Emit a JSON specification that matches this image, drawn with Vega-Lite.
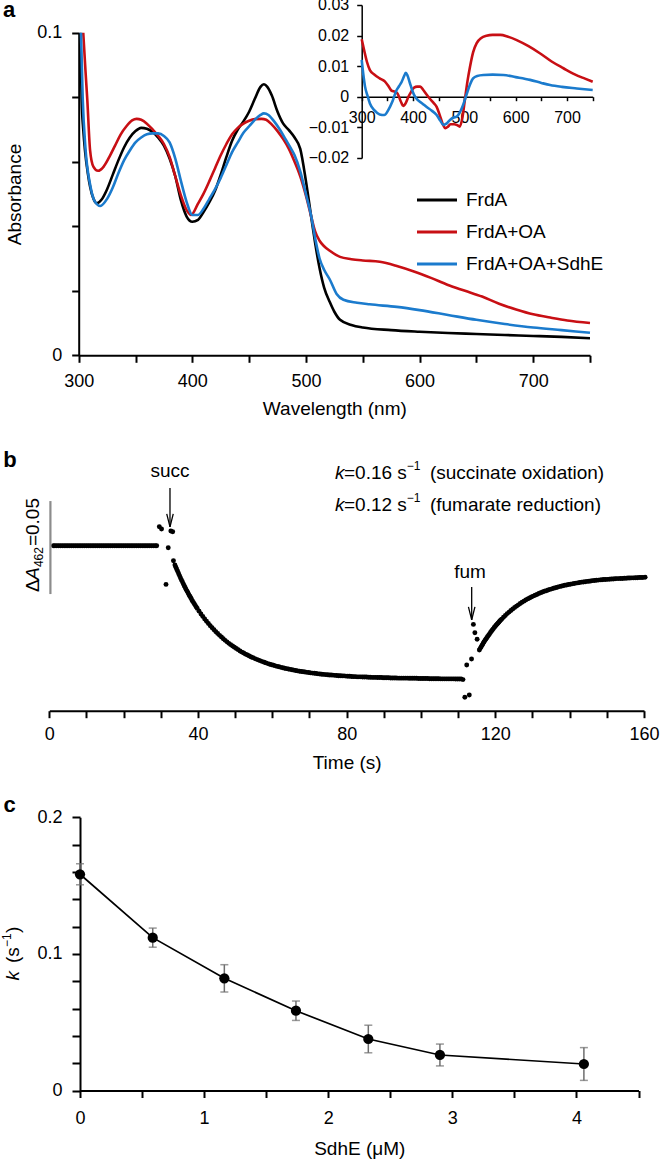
{
"$schema":"https://vega.github.io/schema/vega-lite/v6.json",
"width":661,"height":1159,"autosize":{"type":"none"},"padding":0,"background":"white",
"config":{
 "view":{"stroke":null},
 "font":"Liberation Sans",
 "axis":{"domainColor":"#000","domainWidth":2,"tickColor":"#000","tickWidth":2,"labelColor":"#000","labelFont":"Liberation Sans","labelFontSize":18,"titleFont":"Liberation Sans","titleFontSize":19,"titleFontWeight":"normal","titleColor":"#000","grid":false,"labelFlush":false,"labelOverlap":false},
 "text":{"font":"Liberation Sans","color":"#000"}
},
"resolve":{"scale":{"x":"independent","y":"independent"}},
"datasets":{
 "spec":[
{"wl":301.5,"A":0.1,"s":"FrdA"},{"wl":302.6,"A":0.079,"s":"FrdA"},{"wl":304,"A":0.07,"s":"FrdA"},{"wl":305.5,"A":0.0636,"s":"FrdA"},{"wl":308,"A":0.0565,"s":"FrdA"},{"wl":310,"A":0.0523,"s":"FrdA"},{"wl":313,"A":0.0485,"s":"FrdA"},{"wl":316,"A":0.0471,"s":"FrdA"},{"wl":320,"A":0.0482,"s":"FrdA"},{"wl":325,"A":0.0515,"s":"FrdA"},{"wl":330,"A":0.056,"s":"FrdA"},{"wl":335,"A":0.0605,"s":"FrdA"},{"wl":340,"A":0.0645,"s":"FrdA"},{"wl":345,"A":0.0675,"s":"FrdA"},{"wl":350,"A":0.0695,"s":"FrdA"},{"wl":355,"A":0.0705,"s":"FrdA"},{"wl":360,"A":0.0702,"s":"FrdA"},{"wl":365,"A":0.0692,"s":"FrdA"},{"wl":370,"A":0.0675,"s":"FrdA"},{"wl":375,"A":0.065,"s":"FrdA"},{"wl":380,"A":0.061,"s":"FrdA"},{"wl":385,"A":0.0555,"s":"FrdA"},{"wl":390,"A":0.048,"s":"FrdA"},{"wl":395,"A":0.043,"s":"FrdA"},{"wl":400,"A":0.0414,"s":"FrdA"},{"wl":405,"A":0.042,"s":"FrdA"},{"wl":410,"A":0.0445,"s":"FrdA"},{"wl":415,"A":0.0475,"s":"FrdA"},{"wl":420,"A":0.051,"s":"FrdA"},{"wl":425,"A":0.056,"s":"FrdA"},{"wl":430,"A":0.0615,"s":"FrdA"},{"wl":435,"A":0.0665,"s":"FrdA"},{"wl":440,"A":0.07,"s":"FrdA"},{"wl":445,"A":0.0725,"s":"FrdA"},{"wl":450,"A":0.0755,"s":"FrdA"},{"wl":455,"A":0.0795,"s":"FrdA"},{"wl":460,"A":0.0832,"s":"FrdA"},{"wl":463,"A":0.084,"s":"FrdA"},{"wl":466,"A":0.0832,"s":"FrdA"},{"wl":470,"A":0.0805,"s":"FrdA"},{"wl":475,"A":0.0755,"s":"FrdA"},{"wl":480,"A":0.0718,"s":"FrdA"},{"wl":485,"A":0.0698,"s":"FrdA"},{"wl":490,"A":0.0675,"s":"FrdA"},{"wl":495,"A":0.064,"s":"FrdA"},{"wl":500,"A":0.054,"s":"FrdA"},{"wl":505,"A":0.042,"s":"FrdA"},{"wl":508,"A":0.035,"s":"FrdA"},{"wl":512,"A":0.027,"s":"FrdA"},{"wl":516,"A":0.021,"s":"FrdA"},{"wl":521,"A":0.0165,"s":"FrdA"},{"wl":525,"A":0.0135,"s":"FrdA"},{"wl":530,"A":0.011,"s":"FrdA"},{"wl":540,"A":0.0094,"s":"FrdA"},{"wl":550,"A":0.0086,"s":"FrdA"},{"wl":575,"A":0.0078,"s":"FrdA"},{"wl":600,"A":0.0073,"s":"FrdA"},{"wl":625,"A":0.0069,"s":"FrdA"},{"wl":650,"A":0.0066,"s":"FrdA"},{"wl":675,"A":0.0063,"s":"FrdA"},{"wl":700,"A":0.006,"s":"FrdA"},{"wl":725,"A":0.0057,"s":"FrdA"},{"wl":750,"A":0.0053,"s":"FrdA"},
{"wl":304,"A":0.1,"s":"FrdA+OA"},{"wl":306,"A":0.088,"s":"FrdA+OA"},{"wl":307.6,"A":0.079,"s":"FrdA+OA"},{"wl":310,"A":0.0636,"s":"FrdA+OA"},{"wl":312.9,"A":0.0585,"s":"FrdA+OA"},{"wl":317,"A":0.0572,"s":"FrdA+OA"},{"wl":322,"A":0.0585,"s":"FrdA+OA"},{"wl":327,"A":0.0615,"s":"FrdA+OA"},{"wl":332,"A":0.065,"s":"FrdA+OA"},{"wl":337,"A":0.0685,"s":"FrdA+OA"},{"wl":342,"A":0.071,"s":"FrdA+OA"},{"wl":347,"A":0.0728,"s":"FrdA+OA"},{"wl":351,"A":0.0733,"s":"FrdA+OA"},{"wl":355,"A":0.073,"s":"FrdA+OA"},{"wl":360,"A":0.0718,"s":"FrdA+OA"},{"wl":365,"A":0.07,"s":"FrdA+OA"},{"wl":370,"A":0.068,"s":"FrdA+OA"},{"wl":375,"A":0.0655,"s":"FrdA+OA"},{"wl":380,"A":0.0615,"s":"FrdA+OA"},{"wl":385,"A":0.0555,"s":"FrdA+OA"},{"wl":390,"A":0.0495,"s":"FrdA+OA"},{"wl":395,"A":0.045,"s":"FrdA+OA"},{"wl":399,"A":0.0435,"s":"FrdA+OA"},{"wl":405,"A":0.047,"s":"FrdA+OA"},{"wl":410,"A":0.0502,"s":"FrdA+OA"},{"wl":415,"A":0.054,"s":"FrdA+OA"},{"wl":420,"A":0.058,"s":"FrdA+OA"},{"wl":425,"A":0.062,"s":"FrdA+OA"},{"wl":430,"A":0.0655,"s":"FrdA+OA"},{"wl":435,"A":0.0685,"s":"FrdA+OA"},{"wl":440,"A":0.0705,"s":"FrdA+OA"},{"wl":445,"A":0.0718,"s":"FrdA+OA"},{"wl":450,"A":0.0727,"s":"FrdA+OA"},{"wl":455,"A":0.0732,"s":"FrdA+OA"},{"wl":461,"A":0.0733,"s":"FrdA+OA"},{"wl":465,"A":0.073,"s":"FrdA+OA"},{"wl":470,"A":0.0715,"s":"FrdA+OA"},{"wl":475,"A":0.0695,"s":"FrdA+OA"},{"wl":480,"A":0.067,"s":"FrdA+OA"},{"wl":485,"A":0.064,"s":"FrdA+OA"},{"wl":490,"A":0.06,"s":"FrdA+OA"},{"wl":495,"A":0.0555,"s":"FrdA+OA"},{"wl":500,"A":0.0495,"s":"FrdA+OA"},{"wl":505,"A":0.0425,"s":"FrdA+OA"},{"wl":508,"A":0.0385,"s":"FrdA+OA"},{"wl":512,"A":0.0355,"s":"FrdA+OA"},{"wl":516,"A":0.0338,"s":"FrdA+OA"},{"wl":521,"A":0.0324,"s":"FrdA+OA"},{"wl":530,"A":0.0305,"s":"FrdA+OA"},{"wl":540,"A":0.0298,"s":"FrdA+OA"},{"wl":550,"A":0.0294,"s":"FrdA+OA"},{"wl":565,"A":0.029,"s":"FrdA+OA"},{"wl":580,"A":0.0277,"s":"FrdA+OA"},{"wl":595,"A":0.026,"s":"FrdA+OA"},{"wl":610,"A":0.024,"s":"FrdA+OA"},{"wl":625,"A":0.0218,"s":"FrdA+OA"},{"wl":640,"A":0.02,"s":"FrdA+OA"},{"wl":655,"A":0.0182,"s":"FrdA+OA"},{"wl":670,"A":0.016,"s":"FrdA+OA"},{"wl":685,"A":0.0142,"s":"FrdA+OA"},{"wl":700,"A":0.0127,"s":"FrdA+OA"},{"wl":715,"A":0.0117,"s":"FrdA+OA"},{"wl":730,"A":0.0108,"s":"FrdA+OA"},{"wl":750,"A":0.01,"s":"FrdA+OA"},
{"wl":302,"A":0.1,"s":"FrdA+OA+SdhE"},{"wl":303.5,"A":0.08,"s":"FrdA+OA+SdhE"},{"wl":306,"A":0.064,"s":"FrdA+OA+SdhE"},{"wl":310,"A":0.053,"s":"FrdA+OA+SdhE"},{"wl":314,"A":0.0478,"s":"FrdA+OA+SdhE"},{"wl":319,"A":0.0463,"s":"FrdA+OA+SdhE"},{"wl":325,"A":0.0485,"s":"FrdA+OA+SdhE"},{"wl":330,"A":0.052,"s":"FrdA+OA+SdhE"},{"wl":335,"A":0.0565,"s":"FrdA+OA+SdhE"},{"wl":340,"A":0.0605,"s":"FrdA+OA+SdhE"},{"wl":345,"A":0.0635,"s":"FrdA+OA+SdhE"},{"wl":350,"A":0.066,"s":"FrdA+OA+SdhE"},{"wl":355,"A":0.0675,"s":"FrdA+OA+SdhE"},{"wl":360,"A":0.0685,"s":"FrdA+OA+SdhE"},{"wl":365,"A":0.0688,"s":"FrdA+OA+SdhE"},{"wl":370,"A":0.0688,"s":"FrdA+OA+SdhE"},{"wl":375,"A":0.068,"s":"FrdA+OA+SdhE"},{"wl":380,"A":0.066,"s":"FrdA+OA+SdhE"},{"wl":385,"A":0.061,"s":"FrdA+OA+SdhE"},{"wl":390,"A":0.054,"s":"FrdA+OA+SdhE"},{"wl":395,"A":0.0475,"s":"FrdA+OA+SdhE"},{"wl":400,"A":0.0435,"s":"FrdA+OA+SdhE"},{"wl":405,"A":0.0435,"s":"FrdA+OA+SdhE"},{"wl":410,"A":0.0455,"s":"FrdA+OA+SdhE"},{"wl":415,"A":0.0485,"s":"FrdA+OA+SdhE"},{"wl":420,"A":0.0515,"s":"FrdA+OA+SdhE"},{"wl":425,"A":0.055,"s":"FrdA+OA+SdhE"},{"wl":430,"A":0.059,"s":"FrdA+OA+SdhE"},{"wl":435,"A":0.063,"s":"FrdA+OA+SdhE"},{"wl":440,"A":0.066,"s":"FrdA+OA+SdhE"},{"wl":445,"A":0.069,"s":"FrdA+OA+SdhE"},{"wl":450,"A":0.071,"s":"FrdA+OA+SdhE"},{"wl":455,"A":0.073,"s":"FrdA+OA+SdhE"},{"wl":460,"A":0.0745,"s":"FrdA+OA+SdhE"},{"wl":463,"A":0.075,"s":"FrdA+OA+SdhE"},{"wl":467,"A":0.0745,"s":"FrdA+OA+SdhE"},{"wl":472,"A":0.0725,"s":"FrdA+OA+SdhE"},{"wl":477,"A":0.07,"s":"FrdA+OA+SdhE"},{"wl":482,"A":0.067,"s":"FrdA+OA+SdhE"},{"wl":487,"A":0.064,"s":"FrdA+OA+SdhE"},{"wl":490,"A":0.062,"s":"FrdA+OA+SdhE"},{"wl":495,"A":0.057,"s":"FrdA+OA+SdhE"},{"wl":500,"A":0.05,"s":"FrdA+OA+SdhE"},{"wl":505,"A":0.0425,"s":"FrdA+OA+SdhE"},{"wl":508,"A":0.0365,"s":"FrdA+OA+SdhE"},{"wl":512,"A":0.03,"s":"FrdA+OA+SdhE"},{"wl":516,"A":0.0265,"s":"FrdA+OA+SdhE"},{"wl":521,"A":0.0235,"s":"FrdA+OA+SdhE"},{"wl":527,"A":0.019,"s":"FrdA+OA+SdhE"},{"wl":533,"A":0.0172,"s":"FrdA+OA+SdhE"},{"wl":545,"A":0.0163,"s":"FrdA+OA+SdhE"},{"wl":556,"A":0.0158,"s":"FrdA+OA+SdhE"},{"wl":580,"A":0.015,"s":"FrdA+OA+SdhE"},{"wl":600,"A":0.014,"s":"FrdA+OA+SdhE"},{"wl":625,"A":0.0125,"s":"FrdA+OA+SdhE"},{"wl":650,"A":0.011,"s":"FrdA+OA+SdhE"},{"wl":675,"A":0.0097,"s":"FrdA+OA+SdhE"},{"wl":700,"A":0.0086,"s":"FrdA+OA+SdhE"},{"wl":725,"A":0.0078,"s":"FrdA+OA+SdhE"},{"wl":750,"A":0.007,"s":"FrdA+OA+SdhE"}
 ],
 "inset":[
{"wl":300,"dA":0.0188,"s":"FrdA+OA"},{"wl":305,"dA":0.015,"s":"FrdA+OA"},{"wl":310,"dA":0.0115,"s":"FrdA+OA"},{"wl":316,"dA":0.0087,"s":"FrdA+OA"},{"wl":325,"dA":0.0072,"s":"FrdA+OA"},{"wl":335,"dA":0.006,"s":"FrdA+OA"},{"wl":345,"dA":0.005,"s":"FrdA+OA"},{"wl":352,"dA":0.0035,"s":"FrdA+OA"},{"wl":358,"dA":0.002,"s":"FrdA+OA"},{"wl":365,"dA":0.0016,"s":"FrdA+OA"},{"wl":370,"dA":0.001,"s":"FrdA+OA"},{"wl":376,"dA":-0.0015,"s":"FrdA+OA"},{"wl":381,"dA":-0.003,"s":"FrdA+OA"},{"wl":386,"dA":-0.002,"s":"FrdA+OA"},{"wl":391,"dA":0.0,"s":"FrdA+OA"},{"wl":396,"dA":0.0015,"s":"FrdA+OA"},{"wl":402,"dA":0.003,"s":"FrdA+OA"},{"wl":408,"dA":0.0033,"s":"FrdA+OA"},{"wl":414,"dA":0.0033,"s":"FrdA+OA"},{"wl":420,"dA":0.0022,"s":"FrdA+OA"},{"wl":426,"dA":0.0008,"s":"FrdA+OA"},{"wl":432,"dA":-0.0005,"s":"FrdA+OA"},{"wl":440,"dA":-0.002,"s":"FrdA+OA"},{"wl":446,"dA":-0.0033,"s":"FrdA+OA"},{"wl":452,"dA":-0.006,"s":"FrdA+OA"},{"wl":458,"dA":-0.009,"s":"FrdA+OA"},{"wl":463,"dA":-0.0103,"s":"FrdA+OA"},{"wl":468,"dA":-0.0098,"s":"FrdA+OA"},{"wl":473,"dA":-0.009,"s":"FrdA+OA"},{"wl":480,"dA":-0.009,"s":"FrdA+OA"},{"wl":486,"dA":-0.0093,"s":"FrdA+OA"},{"wl":491,"dA":-0.0098,"s":"FrdA+OA"},{"wl":496,"dA":-0.007,"s":"FrdA+OA"},{"wl":501,"dA":-0.001,"s":"FrdA+OA"},{"wl":506,"dA":0.005,"s":"FrdA+OA"},{"wl":511,"dA":0.0098,"s":"FrdA+OA"},{"wl":517,"dA":0.0145,"s":"FrdA+OA"},{"wl":524,"dA":0.0175,"s":"FrdA+OA"},{"wl":533,"dA":0.0192,"s":"FrdA+OA"},{"wl":543,"dA":0.0199,"s":"FrdA+OA"},{"wl":555,"dA":0.0202,"s":"FrdA+OA"},{"wl":570,"dA":0.0202,"s":"FrdA+OA"},{"wl":585,"dA":0.0196,"s":"FrdA+OA"},{"wl":602,"dA":0.0185,"s":"FrdA+OA"},{"wl":625,"dA":0.0165,"s":"FrdA+OA"},{"wl":647,"dA":0.0142,"s":"FrdA+OA"},{"wl":670,"dA":0.0115,"s":"FrdA+OA"},{"wl":693,"dA":0.0093,"s":"FrdA+OA"},{"wl":715,"dA":0.0073,"s":"FrdA+OA"},{"wl":735,"dA":0.0059,"s":"FrdA+OA"},{"wl":750,"dA":0.0049,"s":"FrdA+OA"},
{"wl":300,"dA":0.012,"s":"FrdA+OA+SdhE"},{"wl":303,"dA":0.0075,"s":"FrdA+OA+SdhE"},{"wl":306.5,"dA":0.0033,"s":"FrdA+OA+SdhE"},{"wl":311,"dA":0.0005,"s":"FrdA+OA+SdhE"},{"wl":316,"dA":-0.0022,"s":"FrdA+OA+SdhE"},{"wl":325,"dA":-0.0045,"s":"FrdA+OA+SdhE"},{"wl":335,"dA":-0.0058,"s":"FrdA+OA+SdhE"},{"wl":344,"dA":-0.006,"s":"FrdA+OA+SdhE"},{"wl":352,"dA":-0.0043,"s":"FrdA+OA+SdhE"},{"wl":360,"dA":-0.0015,"s":"FrdA+OA+SdhE"},{"wl":368,"dA":0.0022,"s":"FrdA+OA+SdhE"},{"wl":373,"dA":0.0035,"s":"FrdA+OA+SdhE"},{"wl":378,"dA":0.0049,"s":"FrdA+OA+SdhE"},{"wl":382,"dA":0.0065,"s":"FrdA+OA+SdhE"},{"wl":386,"dA":0.0078,"s":"FrdA+OA+SdhE"},{"wl":389,"dA":0.007,"s":"FrdA+OA+SdhE"},{"wl":394,"dA":0.0044,"s":"FrdA+OA+SdhE"},{"wl":399,"dA":0.0018,"s":"FrdA+OA+SdhE"},{"wl":404,"dA":0.0,"s":"FrdA+OA+SdhE"},{"wl":410,"dA":-0.0012,"s":"FrdA+OA+SdhE"},{"wl":418,"dA":-0.0022,"s":"FrdA+OA+SdhE"},{"wl":426,"dA":-0.0033,"s":"FrdA+OA+SdhE"},{"wl":436,"dA":-0.0045,"s":"FrdA+OA+SdhE"},{"wl":446,"dA":-0.006,"s":"FrdA+OA+SdhE"},{"wl":453,"dA":-0.0078,"s":"FrdA+OA+SdhE"},{"wl":459,"dA":-0.0092,"s":"FrdA+OA+SdhE"},{"wl":465,"dA":-0.0088,"s":"FrdA+OA+SdhE"},{"wl":472,"dA":-0.0076,"s":"FrdA+OA+SdhE"},{"wl":479,"dA":-0.0068,"s":"FrdA+OA+SdhE"},{"wl":485,"dA":-0.0065,"s":"FrdA+OA+SdhE"},{"wl":490,"dA":-0.0055,"s":"FrdA+OA+SdhE"},{"wl":495,"dA":-0.0038,"s":"FrdA+OA+SdhE"},{"wl":500,"dA":-0.0015,"s":"FrdA+OA+SdhE"},{"wl":505,"dA":0.0011,"s":"FrdA+OA+SdhE"},{"wl":511,"dA":0.004,"s":"FrdA+OA+SdhE"},{"wl":517,"dA":0.006,"s":"FrdA+OA+SdhE"},{"wl":525,"dA":0.0068,"s":"FrdA+OA+SdhE"},{"wl":537,"dA":0.0071,"s":"FrdA+OA+SdhE"},{"wl":555,"dA":0.0072,"s":"FrdA+OA+SdhE"},{"wl":576,"dA":0.0071,"s":"FrdA+OA+SdhE"},{"wl":600,"dA":0.0064,"s":"FrdA+OA+SdhE"},{"wl":628,"dA":0.0055,"s":"FrdA+OA+SdhE"},{"wl":650,"dA":0.0045,"s":"FrdA+OA+SdhE"},{"wl":667,"dA":0.0038,"s":"FrdA+OA+SdhE"},{"wl":690,"dA":0.0032,"s":"FrdA+OA+SdhE"},{"wl":719,"dA":0.0027,"s":"FrdA+OA+SdhE"},{"wl":750,"dA":0.0022,"s":"FrdA+OA+SdhE"}
 ],
 "labA":[{"wl":238.7,"A":0.107,"txt":"a"}],
 "trace":[
{"t":1.1,"v":0},{"t":1.5,"v":0},{"t":2,"v":0},{"t":2.5,"v":0},{"t":3,"v":0},{"t":3.5,"v":0},{"t":4,"v":0},{"t":4.5,"v":0},{"t":5,"v":0},{"t":5.5,"v":0},{"t":6,"v":0},{"t":6.5,"v":0},{"t":7,"v":0},{"t":7.5,"v":0},{"t":8,"v":0},{"t":8.5,"v":0},{"t":9,"v":0},{"t":9.5,"v":0},{"t":10,"v":0},{"t":10.5,"v":0},{"t":11,"v":0},{"t":11.5,"v":0},{"t":12,"v":0},{"t":12.5,"v":0},{"t":13,"v":0},{"t":13.5,"v":0},{"t":14,"v":0},{"t":14.5,"v":0},{"t":15,"v":0},{"t":15.5,"v":0},{"t":16,"v":0},{"t":16.5,"v":0},{"t":17,"v":0},{"t":17.5,"v":0},{"t":18,"v":0},{"t":18.5,"v":0},{"t":19,"v":0},{"t":19.5,"v":0},{"t":20,"v":0},{"t":20.5,"v":0},{"t":21,"v":0},{"t":21.5,"v":0},{"t":22,"v":0},{"t":22.5,"v":0},{"t":23,"v":0},{"t":23.5,"v":0},{"t":24,"v":0},{"t":24.5,"v":0},{"t":25,"v":0},{"t":25.5,"v":0},{"t":26,"v":0},{"t":26.5,"v":0},{"t":27,"v":0},{"t":27.5,"v":0},{"t":28,"v":0},{"t":28.5,"v":0},{"t":28.9,"v":0},
{"t":29.6,"v":0.0102},{"t":30.2,"v":0.009},{"t":31.4,"v":-0.0208},{"t":32,"v":-0.0011},{"t":32.7,"v":0.0079},{"t":33.2,"v":0.0075},{"t":33.4,"v":-0.0081},
{"t":33.8,"v":-0.0104},{"t":34.05,"v":-0.0116},{"t":34.3,"v":-0.0128},{"t":34.55,"v":-0.0139},{"t":34.8,"v":-0.0151},{"t":35.05,"v":-0.0162},{"t":35.3,"v":-0.0173},{"t":35.55,"v":-0.0184},{"t":35.8,"v":-0.0194},{"t":36.05,"v":-0.0205},{"t":36.3,"v":-0.0215},{"t":36.55,"v":-0.0225},{"t":36.8,"v":-0.0235},{"t":37.05,"v":-0.0244},{"t":37.3,"v":-0.0253},{"t":37.55,"v":-0.0263},{"t":37.8,"v":-0.0272},{"t":38.05,"v":-0.028},{"t":38.3,"v":-0.0289},{"t":38.55,"v":-0.0298},{"t":38.8,"v":-0.0306},{"t":39.05,"v":-0.0314},{"t":39.3,"v":-0.0322},{"t":39.55,"v":-0.033},{"t":39.8,"v":-0.0337},
{"t":40.3,"v":-0.0352},{"t":40.8,"v":-0.0367},{"t":41.3,"v":-0.038},{"t":41.8,"v":-0.0394},{"t":42.3,"v":-0.0406},{"t":42.8,"v":-0.0418},{"t":43.3,"v":-0.043},{"t":43.8,"v":-0.0441},{"t":44.3,"v":-0.0452},{"t":44.8,"v":-0.0463},{"t":45.3,"v":-0.0472},{"t":45.8,"v":-0.0482},{"t":46.3,"v":-0.0491},{"t":46.8,"v":-0.05},{"t":47.3,"v":-0.0509},{"t":47.8,"v":-0.0517},{"t":48.3,"v":-0.0525},{"t":48.8,"v":-0.0532},{"t":49.3,"v":-0.0539},{"t":49.8,"v":-0.0546},
{"t":50.3,"v":-0.0553},{"t":50.8,"v":-0.0559},{"t":51.3,"v":-0.0566},{"t":51.8,"v":-0.0572},{"t":52.3,"v":-0.0577},{"t":52.8,"v":-0.0583},{"t":53.3,"v":-0.0588},{"t":53.8,"v":-0.0593},{"t":54.3,"v":-0.0598},{"t":54.8,"v":-0.0602},{"t":55.3,"v":-0.0607},{"t":55.8,"v":-0.0611},{"t":56.3,"v":-0.0615},{"t":56.8,"v":-0.0619},{"t":57.3,"v":-0.0623},{"t":57.8,"v":-0.0627},{"t":58.3,"v":-0.063},{"t":58.8,"v":-0.0634},{"t":59.3,"v":-0.0637},{"t":59.8,"v":-0.064},{"t":60.3,"v":-0.0643},{"t":60.8,"v":-0.0646},{"t":61.3,"v":-0.0649},{"t":61.8,"v":-0.0651},{"t":62.3,"v":-0.0654},{"t":62.8,"v":-0.0656},{"t":63.3,"v":-0.0659},{"t":63.8,"v":-0.0661},{"t":64.3,"v":-0.0663},{"t":64.8,"v":-0.0665},{"t":65.3,"v":-0.0667},{"t":65.8,"v":-0.0669},{"t":66.3,"v":-0.0671},{"t":66.8,"v":-0.0673},{"t":67.3,"v":-0.0675},{"t":67.8,"v":-0.0676},{"t":68.3,"v":-0.0678},{"t":68.8,"v":-0.0679},{"t":69.3,"v":-0.0681},{"t":69.8,"v":-0.0682},{"t":70.3,"v":-0.0684},{"t":70.8,"v":-0.0685},{"t":71.3,"v":-0.0686},{"t":71.8,"v":-0.0687},{"t":72.3,"v":-0.0689},{"t":72.8,"v":-0.069},{"t":73.3,"v":-0.0691},{"t":73.8,"v":-0.0692},{"t":74.3,"v":-0.0693},{"t":74.8,"v":-0.0694},{"t":75.3,"v":-0.0695},{"t":75.8,"v":-0.0695},{"t":76.3,"v":-0.0696},{"t":76.8,"v":-0.0697},{"t":77.3,"v":-0.0698},{"t":77.8,"v":-0.0699},{"t":78.3,"v":-0.0699},{"t":78.8,"v":-0.07},{"t":79.3,"v":-0.07},{"t":79.8,"v":-0.0701},{"t":80.3,"v":-0.0702},{"t":80.8,"v":-0.0702},{"t":81.3,"v":-0.0703},{"t":81.8,"v":-0.0704},{"t":82.3,"v":-0.0704},{"t":82.8,"v":-0.0705},{"t":83.3,"v":-0.0705},{"t":83.8,"v":-0.0705},{"t":84.3,"v":-0.0706},{"t":84.8,"v":-0.0706},{"t":85.3,"v":-0.0706},{"t":85.8,"v":-0.0707},{"t":86.3,"v":-0.0707},{"t":86.8,"v":-0.0708},{"t":87.3,"v":-0.0708},{"t":87.8,"v":-0.0708},{"t":88.3,"v":-0.0709},{"t":88.8,"v":-0.0709},{"t":89.3,"v":-0.0709},{"t":89.8,"v":-0.071},{"t":90.3,"v":-0.071},{"t":90.8,"v":-0.071},{"t":91.3,"v":-0.071},{"t":91.8,"v":-0.0711},{"t":92.3,"v":-0.0711},{"t":92.8,"v":-0.0711},{"t":93.3,"v":-0.0711},{"t":93.8,"v":-0.0712},{"t":94.3,"v":-0.0712},{"t":94.8,"v":-0.0712},{"t":95.3,"v":-0.0712},{"t":95.8,"v":-0.0712},{"t":96.3,"v":-0.0712},{"t":96.8,"v":-0.0713},{"t":97.3,"v":-0.0713},{"t":97.8,"v":-0.0713},{"t":98.3,"v":-0.0713},{"t":98.8,"v":-0.0713},{"t":99.3,"v":-0.0714},{"t":99.8,"v":-0.0714},{"t":100.3,"v":-0.0714},{"t":100.8,"v":-0.0714},{"t":101.3,"v":-0.0714},{"t":101.8,"v":-0.0714},{"t":102.3,"v":-0.0715},{"t":102.8,"v":-0.0715},{"t":103.3,"v":-0.0715},{"t":103.8,"v":-0.0715},{"t":104.3,"v":-0.0715},{"t":104.8,"v":-0.0715},{"t":105.3,"v":-0.0716},{"t":105.8,"v":-0.0716},{"t":106.3,"v":-0.0716},{"t":106.8,"v":-0.0716},{"t":107.3,"v":-0.0716},{"t":107.8,"v":-0.0716},{"t":108.3,"v":-0.0716},{"t":108.8,"v":-0.0716},{"t":109.3,"v":-0.0717},{"t":109.8,"v":-0.0717},{"t":110.3,"v":-0.0717},{"t":110.8,"v":-0.0717},{"t":111.3,"v":-0.072},
{"t":111.8,"v":-0.0815},{"t":113,"v":-0.0803},{"t":112.3,"v":-0.0641},{"t":113.6,"v":-0.0609},{"t":114.1,"v":-0.0423},{"t":114.5,"v":-0.0468},{"t":115.1,"v":-0.0503},
{"t":115.7,"v":-0.0561},{"t":115.95,"v":-0.0552},{"t":116.2,"v":-0.0543},{"t":116.45,"v":-0.0535},{"t":116.7,"v":-0.0526},{"t":116.95,"v":-0.0518},{"t":117.2,"v":-0.051},{"t":117.45,"v":-0.0503},{"t":117.7,"v":-0.0495},{"t":117.95,"v":-0.0488},{"t":118.2,"v":-0.0481},{"t":118.45,"v":-0.0474},{"t":118.7,"v":-0.0467},{"t":118.95,"v":-0.046},{"t":119.2,"v":-0.0453},{"t":119.45,"v":-0.0447},{"t":119.7,"v":-0.044},{"t":119.95,"v":-0.0434},{"t":120.2,"v":-0.0428},{"t":120.45,"v":-0.0422},{"t":120.7,"v":-0.0417},{"t":120.95,"v":-0.0411},{"t":121.2,"v":-0.0405},{"t":121.45,"v":-0.04},{"t":121.7,"v":-0.0395},
{"t":122.2,"v":-0.0385},{"t":122.7,"v":-0.0375},{"t":123.2,"v":-0.0365},{"t":123.7,"v":-0.0357},{"t":124.2,"v":-0.0348},{"t":124.7,"v":-0.034},{"t":125.2,"v":-0.0332},{"t":125.7,"v":-0.0325},{"t":126.2,"v":-0.0318},{"t":126.7,"v":-0.0311},{"t":127.2,"v":-0.0304},{"t":127.7,"v":-0.0298},{"t":128.2,"v":-0.0292},{"t":128.7,"v":-0.0286},{"t":129.2,"v":-0.0281},{"t":129.7,"v":-0.0276},
{"t":130.2,"v":-0.0271},{"t":130.7,"v":-0.0266},{"t":131.2,"v":-0.0262},{"t":131.7,"v":-0.0257},{"t":132.2,"v":-0.0253},{"t":132.7,"v":-0.0249},{"t":133.2,"v":-0.0245},{"t":133.7,"v":-0.0242},{"t":134.2,"v":-0.0238},{"t":134.7,"v":-0.0235},{"t":135.2,"v":-0.0232},{"t":135.7,"v":-0.0229},{"t":136.2,"v":-0.0226},{"t":136.7,"v":-0.0223},{"t":137.2,"v":-0.022},{"t":137.7,"v":-0.0218},{"t":138.2,"v":-0.0215},{"t":138.7,"v":-0.0213},{"t":139.2,"v":-0.0211},{"t":139.7,"v":-0.0209},{"t":140.2,"v":-0.0207},{"t":140.7,"v":-0.0205},{"t":141.2,"v":-0.0203},{"t":141.7,"v":-0.0201},{"t":142.2,"v":-0.02},{"t":142.7,"v":-0.0198},{"t":143.2,"v":-0.0196},{"t":143.7,"v":-0.0195},{"t":144.2,"v":-0.0194},{"t":144.7,"v":-0.0192},{"t":145.2,"v":-0.0191},{"t":145.7,"v":-0.019},{"t":146.2,"v":-0.0188},{"t":146.7,"v":-0.0187},{"t":147.2,"v":-0.0186},{"t":147.7,"v":-0.0185},{"t":148.2,"v":-0.0184},{"t":148.7,"v":-0.0183},{"t":149.2,"v":-0.0182},{"t":149.7,"v":-0.0182},{"t":150.2,"v":-0.0181},{"t":150.7,"v":-0.018},{"t":151.2,"v":-0.0179},{"t":151.7,"v":-0.0179},{"t":152.2,"v":-0.0178},{"t":152.7,"v":-0.0177},{"t":153.2,"v":-0.0177},{"t":153.7,"v":-0.0176},{"t":154.2,"v":-0.0176},{"t":154.7,"v":-0.0175},{"t":155.2,"v":-0.0175},{"t":155.7,"v":-0.0174},{"t":156.2,"v":-0.0174},{"t":156.7,"v":-0.0173},{"t":157.2,"v":-0.0173},{"t":157.7,"v":-0.0172},{"t":158.2,"v":-0.0172},{"t":158.7,"v":-0.0171},{"t":159.2,"v":-0.0171},{"t":159.7,"v":-0.0171},{"t":160.3,"v":-0.017}
 ],
 "bar":[{"t":0.3,"v":0.024,"v2":-0.026}],
 "arrows":[{"t":32.47,"v":0.031,"v2":0.0101},{"t":113.64,"v":-0.0222,"v2":-0.0399}],
 "heads":[{"t":32.47,"v":0.0101},{"t":113.64,"v":-0.0399}],
 "bNorm":[{"t":79.28,"v":0.0389,"txt":"=0.16 s"},{"t":102.4,"v":0.0389,"txt":"(succinate oxidation)"},{"t":79.28,"v":0.0219,"txt":"=0.12 s"},{"t":102.4,"v":0.0219,"txt":"(fumarate reduction)"}],
 "bItal":[{"t":76.86,"v":0.0389,"txt":"k"},{"t":76.86,"v":0.0219,"txt":"k"}],
 "bSup":[{"t":96.2,"v":0.0427,"txt":"−1"},{"t":96.2,"v":0.0254,"txt":"−1"}],
 "bCen":[{"t":32.47,"v":0.0402,"txt":"succ"},{"t":113.2,"v":-0.014,"txt":"fum"}],
 "bLab":[{"t":-10.57,"v":0.0461,"txt":"b"}],
 "bRotN":[{"t":-4.39,"v":-0.0249,"txt":"Δ"},{"t":-4.39,"v":-0.0002,"txt":"=0.05"}],
 "bRotI":[{"t":-4.39,"v":-0.0184,"txt":"A"}],
 "bRotS":[{"t":-2.77,"v":-0.0115,"txt":"462"}],
 "kc":[{"d":0,"k":0.1583,"lo":0.1506,"hi":0.166},{"d":0.586,"k":0.1119,"lo":0.1049,"hi":0.1189},{"d":1.163,"k":0.0821,"lo":0.0721,"hi":0.0921},{"d":1.74,"k":0.0584,"lo":0.0513,"hi":0.0655},{"d":2.323,"k":0.0377,"lo":0.0276,"hi":0.0478},{"d":2.9,"k":0.026,"lo":0.018,"hi":0.034},{"d":4.06,"k":0.0194,"lo":0.0074,"hi":0.0314}],
 "cLab":[{"d":-0.568,"k":0.209,"txt":"c"}],
 "cRotI":[{"d":-0.54,"k":0.0805,"txt":"k"}],
 "cRotN":[{"d":-0.54,"k":0.0933,"txt":"(s"},{"d":-0.54,"k":0.1153,"txt":")"}],
 "cRotS":[{"d":-0.585,"k":0.105,"txt":"−1"}]
},
"layer":[
 {"data":{"name":"spec"},"mark":{"type":"line","strokeWidth":2.6,"interpolate":"monotone"},
  "encoding":{
   "x":{"field":"wl","type":"quantitative","scale":{"domain":[300,750],"range":[78.7,590],"nice":false,"zero":false},
    "axis":{"orient":"bottom","offset":-803.7,"values":[300,350,400,450,500,550,600,650,700,750],"labelExpr":"datum.value % 100 === 0 && datum.value < 750 ? format(datum.value, 'd') : ''","tickSize":7,"labelPadding":10,"title":"Wavelength (nm)","titleY":52.7,"titleBaseline":"middle"}},
   "y":{"field":"A","type":"quantitative","scale":{"domain":[0,0.1],"range":[355.3,32.7],"nice":false,"zero":false},
    "axis":{"orient":"left","offset":-78.7,"values":[0,0.02,0.04,0.06,0.08,0.1],"labelExpr":"datum.value === 0 ? '0' : datum.value === 0.1 ? '0.1' : ''","tickSize":7,"labelPadding":10,"title":"Absorbance","titleX":-63.7,"titleBaseline":"middle"}},
   "color":{"field":"s","type":"nominal","scale":{"domain":["FrdA","FrdA+OA","FrdA+OA+SdhE"],"range":["#000000","#c80f14","#1b7bcd"]},
    "legend":{"title":null,"orient":"none","legendX":415.5,"legendY":178.5,"symbolType":"stroke","symbolSize":1600,"symbolStrokeWidth":3,"labelFontSize":19,"labelFont":"Liberation Sans","labelColor":"#000","labelOffset":7.5,"rowPadding":-11.5,"padding":0}}
  }},
 {"data":{"name":"labA"},"mark":{"type":"text","fontSize":22,"fontWeight":"bold","align":"center","baseline":"middle"},
  "encoding":{"x":{"field":"wl","type":"quantitative","scale":{"domain":[300,750],"range":[78.7,590],"nice":false,"zero":false},"axis":null},
   "y":{"field":"A","type":"quantitative","scale":{"domain":[0,0.1],"range":[355.3,32.7],"nice":false,"zero":false},"axis":null},
   "text":{"field":"txt"}}},
 {"data":{"name":"inset"},"mark":{"type":"line","strokeWidth":2.6,"interpolate":"monotone"},
  "encoding":{
   "x":{"field":"wl","type":"quantitative","scale":{"domain":[300,750],"range":[361.7,592.7],"nice":false,"zero":false},
    "axis":{"orient":"bottom","offset":-1062.3,"values":[300,350,400,450,500,550,600,650,700,750],"labelExpr":"datum.value % 100 === 0 && datum.value < 750 ? format(datum.value, 'd') : ''","tickSize":4,"tickWidth":1.5,"domainWidth":1.5,"labelFontSize":16,"labelPadding":9,"title":null}},
   "y":{"field":"dA","type":"quantitative","scale":{"domain":[-0.02,0.03],"range":[157.9,4.9],"nice":false,"zero":false},
    "axis":{"orient":"left","offset":-361.7,"values":[-0.02,-0.01,0,0.01,0.02,0.03],"labelExpr":"datum.value === 0 ? '0' : format(datum.value, '.2f')","tickSize":5,"tickWidth":1.5,"domainWidth":1.5,"labelFontSize":16,"labelPadding":8,"title":null}},
   "color":{"field":"s","type":"nominal"}
  }},
 {"data":{"name":"trace"},"mark":{"type":"circle","size":24,"color":"#000","opacity":1},
  "encoding":{"x":{"field":"t","type":"quantitative","scale":{"domain":[0,160],"range":[49.3,644],"nice":false,"zero":false},
    "axis":{"orient":"bottom","offset":-448.3,"values":[0,10,20,30,40,50,60,70,80,90,100,110,120,130,140,150,160],"labelExpr":"datum.value % 40 === 0 ? format(datum.value, 'd') : ''","tickSize":7,"labelPadding":8,"title":"Time (s)","titleY":51.3,"titleBaseline":"middle"}},
   "y":{"field":"v","type":"quantitative","scale":{"domain":[-0.09,0.03],"range":[713.1,489.9],"nice":false,"zero":false},"axis":null}}},
 {"data":{"name":"bar"},"mark":{"type":"rule","color":"#8c8c8c","strokeWidth":2.2},
  "encoding":{"x":{"field":"t","type":"quantitative","scale":{"domain":[0,160],"range":[49.3,644],"nice":false,"zero":false},"axis":null},
   "y":{"field":"v","type":"quantitative","scale":{"domain":[-0.09,0.03],"range":[713.1,489.9],"nice":false,"zero":false},"axis":null},"y2":{"field":"v2"}}},
 {"data":{"name":"arrows"},"mark":{"type":"rule","color":"#000","strokeWidth":1.3},
  "encoding":{"x":{"field":"t","type":"quantitative","scale":{"domain":[0,160],"range":[49.3,644],"nice":false,"zero":false},"axis":null},
   "y":{"field":"v","type":"quantitative","scale":{"domain":[-0.09,0.03],"range":[713.1,489.9],"nice":false,"zero":false},"axis":null},"y2":{"field":"v2"}}},
 {"data":{"name":"heads"},"mark":{"type":"point","shape":"M-0.5,-2L0,0L0.5,-2","filled":false,"size":169,"strokeWidth":1.3,"color":"#000","opacity":1},
  "encoding":{"x":{"field":"t","type":"quantitative","scale":{"domain":[0,160],"range":[49.3,644],"nice":false,"zero":false},"axis":null},
   "y":{"field":"v","type":"quantitative","scale":{"domain":[-0.09,0.03],"range":[713.1,489.9],"nice":false,"zero":false},"axis":null}}},
 {"data":{"name":"bNorm"},"mark":{"type":"text","fontSize":19,"align":"left","baseline":"middle"},
  "encoding":{"x":{"field":"t","type":"quantitative","scale":{"domain":[0,160],"range":[49.3,644],"nice":false,"zero":false},"axis":null},
   "y":{"field":"v","type":"quantitative","scale":{"domain":[-0.09,0.03],"range":[713.1,489.9],"nice":false,"zero":false},"axis":null},"text":{"field":"txt"}}},
 {"data":{"name":"bItal"},"mark":{"type":"text","fontSize":19,"fontStyle":"italic","align":"left","baseline":"middle"},
  "encoding":{"x":{"field":"t","type":"quantitative","scale":{"domain":[0,160],"range":[49.3,644],"nice":false,"zero":false},"axis":null},
   "y":{"field":"v","type":"quantitative","scale":{"domain":[-0.09,0.03],"range":[713.1,489.9],"nice":false,"zero":false},"axis":null},"text":{"field":"txt"}}},
 {"data":{"name":"bSup"},"mark":{"type":"text","fontSize":12,"align":"left","baseline":"middle"},
  "encoding":{"x":{"field":"t","type":"quantitative","scale":{"domain":[0,160],"range":[49.3,644],"nice":false,"zero":false},"axis":null},
   "y":{"field":"v","type":"quantitative","scale":{"domain":[-0.09,0.03],"range":[713.1,489.9],"nice":false,"zero":false},"axis":null},"text":{"field":"txt"}}},
 {"data":{"name":"bCen"},"mark":{"type":"text","fontSize":19,"align":"center","baseline":"middle"},
  "encoding":{"x":{"field":"t","type":"quantitative","scale":{"domain":[0,160],"range":[49.3,644],"nice":false,"zero":false},"axis":null},
   "y":{"field":"v","type":"quantitative","scale":{"domain":[-0.09,0.03],"range":[713.1,489.9],"nice":false,"zero":false},"axis":null},"text":{"field":"txt"}}},
 {"data":{"name":"bLab"},"mark":{"type":"text","fontSize":22,"fontWeight":"bold","align":"center","baseline":"middle"},
  "encoding":{"x":{"field":"t","type":"quantitative","scale":{"domain":[0,160],"range":[49.3,644],"nice":false,"zero":false},"axis":null},
   "y":{"field":"v","type":"quantitative","scale":{"domain":[-0.09,0.03],"range":[713.1,489.9],"nice":false,"zero":false},"axis":null},"text":{"field":"txt"}}},
 {"data":{"name":"bRotN"},"mark":{"type":"text","fontSize":19,"angle":270,"align":"left","baseline":"middle"},
  "encoding":{"x":{"field":"t","type":"quantitative","scale":{"domain":[0,160],"range":[49.3,644],"nice":false,"zero":false},"axis":null},
   "y":{"field":"v","type":"quantitative","scale":{"domain":[-0.09,0.03],"range":[713.1,489.9],"nice":false,"zero":false},"axis":null},"text":{"field":"txt"}}},
 {"data":{"name":"bRotI"},"mark":{"type":"text","fontSize":19,"fontStyle":"italic","angle":270,"align":"left","baseline":"middle"},
  "encoding":{"x":{"field":"t","type":"quantitative","scale":{"domain":[0,160],"range":[49.3,644],"nice":false,"zero":false},"axis":null},
   "y":{"field":"v","type":"quantitative","scale":{"domain":[-0.09,0.03],"range":[713.1,489.9],"nice":false,"zero":false},"axis":null},"text":{"field":"txt"}}},
 {"data":{"name":"bRotS"},"mark":{"type":"text","fontSize":12,"angle":270,"align":"left","baseline":"middle"},
  "encoding":{"x":{"field":"t","type":"quantitative","scale":{"domain":[0,160],"range":[49.3,644],"nice":false,"zero":false},"axis":null},
   "y":{"field":"v","type":"quantitative","scale":{"domain":[-0.09,0.03],"range":[713.1,489.9],"nice":false,"zero":false},"axis":null},"text":{"field":"txt"}}},
 {"data":{"name":"kc"},"mark":{"type":"line","color":"#000","strokeWidth":1.7},
  "encoding":{
   "x":{"field":"d","type":"quantitative","scale":{"domain":[0,4.5],"range":[80,638.5],"nice":false,"zero":false},
    "axis":{"orient":"bottom","offset":-68.5,"values":[0,0.5,1,1.5,2,2.5,3,3.5,4,4.5],"labelExpr":"datum.value % 1 === 0 && datum.value <= 4 ? format(datum.value, 'd') : ''","tickSize":7,"labelPadding":12,"title":"SdhE (μM)","titleY":57.5,"titleBaseline":"middle"}},
   "y":{"field":"k","type":"quantitative","scale":{"domain":[0,0.2],"range":[1090.5,817.3],"nice":false,"zero":false},
    "axis":{"orient":"left","offset":-80,"values":[0,0.02,0.04,0.06,0.08,0.1,0.12,0.14,0.16,0.18,0.2],"labelExpr":"datum.value === 0 ? '0' : datum.value === 0.1 ? '0.1' : datum.value === 0.2 ? '0.2' : ''","tickSize":8,"labelPadding":10,"title":null}}
  }},
 {"data":{"name":"kc"},"mark":{"type":"errorbar","ticks":true,"color":"#6e6e6e","thickness":1.5,"size":8},
  "encoding":{"x":{"field":"d","type":"quantitative","scale":{"domain":[0,4.5],"range":[80,638.5],"nice":false,"zero":false},"axis":null},
   "y":{"field":"lo","type":"quantitative","scale":{"domain":[0,0.2],"range":[1090.5,817.3],"nice":false,"zero":false},"axis":null},"y2":{"field":"hi"}}},
 {"data":{"name":"kc"},"mark":{"type":"circle","size":105,"color":"#000","opacity":1},
  "encoding":{"x":{"field":"d","type":"quantitative","scale":{"domain":[0,4.5],"range":[80,638.5],"nice":false,"zero":false},"axis":null},
   "y":{"field":"k","type":"quantitative","scale":{"domain":[0,0.2],"range":[1090.5,817.3],"nice":false,"zero":false},"axis":null}}},
 {"data":{"name":"cLab"},"mark":{"type":"text","fontSize":22,"fontWeight":"bold","align":"center","baseline":"middle"},
  "encoding":{"x":{"field":"d","type":"quantitative","scale":{"domain":[0,4.5],"range":[80,638.5],"nice":false,"zero":false},"axis":null},
   "y":{"field":"k","type":"quantitative","scale":{"domain":[0,0.2],"range":[1090.5,817.3],"nice":false,"zero":false},"axis":null},"text":{"field":"txt"}}},
 {"data":{"name":"cRotI"},"mark":{"type":"text","fontSize":19,"fontStyle":"italic","angle":270,"align":"left","baseline":"middle"},
  "encoding":{"x":{"field":"d","type":"quantitative","scale":{"domain":[0,4.5],"range":[80,638.5],"nice":false,"zero":false},"axis":null},
   "y":{"field":"k","type":"quantitative","scale":{"domain":[0,0.2],"range":[1090.5,817.3],"nice":false,"zero":false},"axis":null},"text":{"field":"txt"}}},
 {"data":{"name":"cRotN"},"mark":{"type":"text","fontSize":19,"angle":270,"align":"left","baseline":"middle"},
  "encoding":{"x":{"field":"d","type":"quantitative","scale":{"domain":[0,4.5],"range":[80,638.5],"nice":false,"zero":false},"axis":null},
   "y":{"field":"k","type":"quantitative","scale":{"domain":[0,0.2],"range":[1090.5,817.3],"nice":false,"zero":false},"axis":null},"text":{"field":"txt"}}},
 {"data":{"name":"cRotS"},"mark":{"type":"text","fontSize":12,"angle":270,"align":"left","baseline":"middle"},
  "encoding":{"x":{"field":"d","type":"quantitative","scale":{"domain":[0,4.5],"range":[80,638.5],"nice":false,"zero":false},"axis":null},
   "y":{"field":"k","type":"quantitative","scale":{"domain":[0,0.2],"range":[1090.5,817.3],"nice":false,"zero":false},"axis":null},"text":{"field":"txt"}}}
]
}
